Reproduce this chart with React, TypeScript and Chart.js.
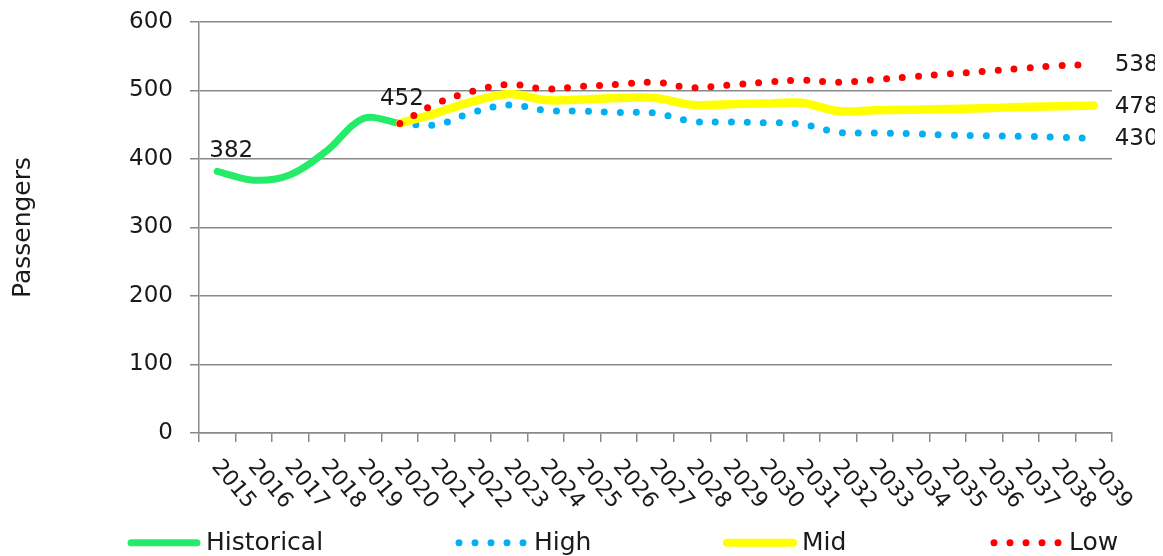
import React, { useEffect, useRef } from 'react';
import { Chart, registerables } from 'chart.js';

Chart.register(...registerables);

const YEARS = [
  '2015', '2016', '2017', '2018', '2019', '2020', '2021', '2022', '2023', '2024',
  '2025', '2026', '2027', '2028', '2029', '2030', '2031', '2032', '2033', '2034',
  '2035', '2036', '2037', '2038', '2039',
];

const HISTORICAL = [382, 369, 377, 412, 459, 452, null, null, null, null, null, null, null, null, null, null, null, null, null, null, null, null, null, null, null];
const HIGH = [null, null, null, null, null, 452, 450, 468, 479, 471, 470, 468, 467, 455, 454, 453, 451, 439, 438, 437, 435, 434, 433, 432, 430];
const MID = [null, null, null, null, null, 452, 467, 484, 495, 486, 487, 489, 489, 479, 480, 481, 482, 470, 471, 472, 473, 474, 476, 477, 478];
const LOW = [null, null, null, null, null, 452, 481, 499, 509, 502, 506, 509, 512, 504, 508, 512, 515, 512, 516, 520, 524, 528, 532, 536, 538];

const Y_TICKS = [0, 100, 200, 300, 400, 500, 600];

const SERIES_NAMES = ['Historical', 'High', 'Mid', 'Low'];
const GREEN = '#24EC68';
const BLUE = '#00B0F0';
const YELLOW = '#FFFF00';
const RED = '#FF0000';
const GRID = '#898989';
const TEXT = '#1a1a1a';
const FONT = '"DejaVu Sans", sans-serif';

const CANVAS_W = 1155;
const CANVAS_H = 548;
const LEGEND_X_FRACTIONS = [119 / CANVAS_W, 447 / CANVAS_W, 715 / CANVAS_W, 982 / CANVAS_W];

const customPlugin = {
  id: 'customDrawing',
  afterDatasetsDraw(chart: any) {
    const ctx: CanvasRenderingContext2D = chart.ctx;
    const xs = chart.scales.x;
    const area = chart.chartArea;
    ctx.save();

    // rotated x tick labels
    ctx.font = `22px ${FONT}`;
    ctx.fillStyle = TEXT;
    ctx.textAlign = 'left';
    ctx.textBaseline = 'middle';
    YEARS.forEach((yr, i) => {
      const px = xs.getPixelForTick(i);
      ctx.save();
      ctx.translate(px - 2, area.bottom + 30);
      ctx.rotate((50 * Math.PI) / 180);
      ctx.fillText(yr, 0, 0);
      ctx.restore();
    });

    // data labels
    ctx.font = `23px ${FONT}`;
    const hMeta = chart.getDatasetMeta(0);
    const first = hMeta.data[0];
    ctx.textAlign = 'center';
    ctx.textBaseline = 'alphabetic';
    ctx.fillText(String(HISTORICAL[0]), first.x + 14, first.y - 14);
    const lastHistIdx = HISTORICAL.findIndex((v, i) => v !== null && HISTORICAL[i + 1] === null);
    const lastH = hMeta.data[lastHistIdx];
    ctx.fillText(String(HISTORICAL[lastHistIdx]), lastH.x + 2, lastH.y - 18);

    ctx.textAlign = 'left';
    ctx.textBaseline = 'middle';
    [HIGH, MID, LOW].forEach((arr, k) => {
      const meta = chart.getDatasetMeta(k + 1);
      const idx = arr.length - 1;
      const p = meta.data[idx];
      ctx.fillText(String(arr[idx]), p.x + 21, p.y + 1);
    });

    // legend
    const ly = 534.7;
    const styles = [
      { color: GREEN, dotted: false, width: 7 },
      { color: BLUE, dotted: true, width: 7 },
      { color: YELLOW, dotted: false, width: 8 },
      { color: RED, dotted: true, width: 7 },
    ];
    ctx.font = `25px ${FONT}`;
    ctx.textAlign = 'left';
    ctx.textBaseline = 'alphabetic';
    SERIES_NAMES.forEach((name, i) => {
      const sx = LEGEND_X_FRACTIONS[i] * chart.width;
      const st = styles[i];
      ctx.save();
      ctx.strokeStyle = st.color;
      ctx.lineWidth = st.width;
      ctx.lineCap = 'round';
      ctx.beginPath();
      if (st.dotted) {
        ctx.setLineDash([0, 16]);
        ctx.moveTo(sx + 4, ly);
        ctx.lineTo(sx + 4 + 64.5, ly);
      } else {
        ctx.setLineDash([]);
        ctx.moveTo(sx + 4, ly);
        ctx.lineTo(sx + 70, ly);
      }
      ctx.stroke();
      ctx.restore();
      ctx.fillStyle = TEXT;
      ctx.fillText(name, sx + 79, ly + 7.5);
    });

    ctx.restore();
  },
};

export default function App() {
  const ref = useRef<HTMLCanvasElement>(null);

  useEffect(() => {
    document.documentElement.style.overflow = 'hidden';
    const canvas = ref.current!;
    const common = {
      pointRadius: 0,
      pointHoverRadius: 0,
      tension: 0.35,
      borderCapStyle: 'round' as const,
      borderJoinStyle: 'round' as const,
      fill: false,
    };
    const chart = new Chart(canvas, {
      type: 'line',
      data: {
        labels: YEARS,
        datasets: [
          { ...common, label: SERIES_NAMES[0], data: HISTORICAL, borderColor: GREEN, backgroundColor: GREEN, borderWidth: 7, order: 3 },
          { ...common, label: SERIES_NAMES[1], data: HIGH, borderColor: BLUE, backgroundColor: BLUE, borderWidth: 7, borderDash: [0, 16], order: 2 },
          { ...common, label: SERIES_NAMES[2], data: MID, borderColor: YELLOW, backgroundColor: YELLOW, borderWidth: 8.5, order: 1 },
          { ...common, label: SERIES_NAMES[3], data: LOW, borderColor: RED, backgroundColor: RED, borderWidth: 7, borderDash: [0, 16], order: 0 },
        ],
      },
      options: {
        responsive: false,
        animation: false,
        devicePixelRatio: 1,
        layout: { padding: { left: 0, right: CANVAS_W - 1104, top: 14, bottom: 0 } },
        plugins: {
          legend: { display: false },
          tooltip: { enabled: false },
        },
        scales: {
          x: {
            type: 'category',
            offset: true,
            grid: {
              offset: true,
              drawOnChartArea: false,
              drawTicks: true,
              tickLength: 9,
              color: GRID,
              lineWidth: 1.5,
            },
            border: { color: GRID, width: 1.5 },
            ticks: { display: false, autoSkip: false },
            afterFit: (s: any) => {
              s.height = CANVAS_H - 425;
              s.paddingLeft = 0;
              s.paddingRight = 0;
            },
          },
          y: {
            min: Y_TICKS[0],
            max: Y_TICKS[Y_TICKS.length - 1],
            afterBuildTicks: (s: any) => {
              s.ticks = Y_TICKS.map((v) => ({ value: v }));
            },
            ticks: {
              font: { family: FONT, size: 23 },
              color: TEXT,
              padding: 17,
            },
            grid: { color: GRID, lineWidth: 1.5, tickLength: 9, drawTicks: true },
            border: { color: GRID, width: 1.5 },
            title: {
              display: true,
              text: 'Passengers',
              font: { family: FONT, size: 25 },
              color: TEXT,
              padding: { top: 0, bottom: 0 },
            },
            afterFit: (s: any) => {
              s.width = 191;
              s.paddingTop = 0;
              s.paddingBottom = 0;
            },
          },
        },
      },
      plugins: [customPlugin],
    });
    return () => chart.destroy();
  }, []);

  return <canvas ref={ref} width={CANVAS_W} height={CANVAS_H} style={{ display: 'block' }} />;
}
